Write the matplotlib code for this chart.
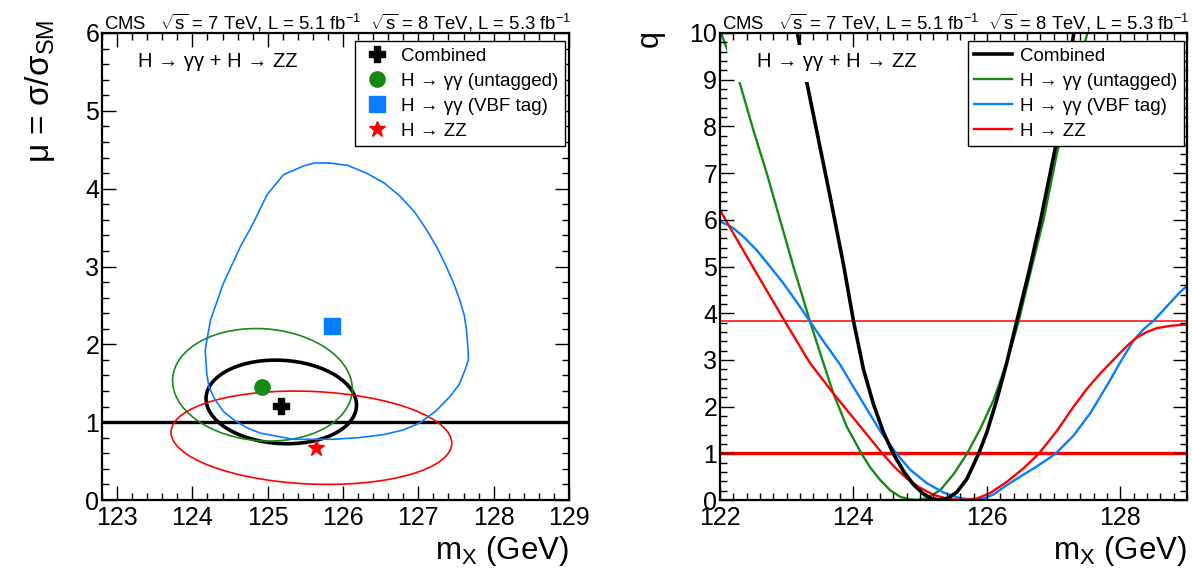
import numpy as np
import matplotlib
matplotlib.use('Agg')
import matplotlib.pyplot as plt
from matplotlib.patches import Ellipse, Rectangle
from matplotlib.lines import Line2D
from matplotlib.ticker import MultipleLocator

plt.rcParams['font.family'] = ['Liberation Sans', 'DejaVu Sans']
plt.rcParams['mathtext.fontset'] = 'custom'
plt.rcParams['mathtext.rm'] = 'Liberation Sans'
plt.rcParams['mathtext.it'] = 'Liberation Sans'
plt.rcParams['mathtext.bf'] = 'Liberation Sans:bold'
plt.rcParams['mathtext.sf'] = 'Liberation Sans'

GREEN = '#168a16'
BLUE = '#0a7cff'
RED = '#ff0000'

labels = ['Combined', 'H → γγ (untagged)', 'H → γγ (VBF tag)', 'H → ZZ']

# best fit points (m_X in GeV, mu)
best_mass = [125.18, 124.93, 125.86, 125.64]
best_mu = [1.21, 1.45, 2.24, 0.67]

# 68% contours that are ~elliptic: combined, untagged, ZZ
ell_mass = [125.18, 124.93, 125.58]
ell_mu = [1.26, 1.48, 0.80]
ell_width = [2.00, 2.39, 3.73]
ell_height = [1.07, 1.44, 1.19]
ell_tilt = [-3.3, -4.0, -2.4]

# VBF tag contour (clockwise from the top)
vbf_mass = [125.81, 126.06, 126.31, 126.55, 126.76, 126.95, 127.11, 127.25, 127.37, 127.47,
            127.55, 127.61, 127.64, 127.66, 127.665, 127.62, 127.54, 127.42, 127.24, 127.02,
            126.80, 126.54, 126.20, 125.87, 125.34, 124.90, 124.72, 124.55, 124.41, 124.30,
            124.22, 124.19, 124.17, 124.24, 124.41, 124.64, 124.81, 124.99, 125.21, 125.47,
            125.62]
vbf_mu = [4.33, 4.30, 4.20, 4.07, 3.90, 3.70, 3.47, 3.24, 3.00, 2.78,
          2.57, 2.37, 2.18, 1.93, 1.80, 1.67, 1.48, 1.33, 1.15, 0.99,
          0.90, 0.84, 0.80, 0.78, 0.78, 0.86, 0.93, 1.03, 1.14, 1.29,
          1.45, 1.63, 1.93, 2.31, 2.78, 3.26, 3.56, 3.92, 4.18, 4.29,
          4.33]

# likelihood scans q(m_X)
comb_m = [123.15, 123.16, 123.30, 123.45, 123.65, 123.85, 124.00, 124.15, 124.30, 124.45,
          124.60, 124.75, 124.90, 125.05, 125.17, 125.29, 125.42, 125.55, 125.70, 125.875,
          126.00, 126.15, 126.30, 126.45, 126.625, 126.80, 127.025, 127.30, 127.31]
comb_q = [10.05, 10.0, 8.95, 7.90, 6.50, 5.05, 3.84, 2.80, 2.05, 1.45,
          0.985, 0.62, 0.33, 0.13, 0.03, 0.0, 0.04, 0.17, 0.45, 0.985,
          1.45, 2.15, 2.95, 3.84, 4.85, 5.95, 7.53, 9.96, 10.05]

untag_m = [122.00, 122.025, 122.29, 122.50, 122.70, 122.90, 123.10, 123.35, 123.50, 123.70,
           123.90, 124.125, 124.25, 124.40, 124.55, 124.70, 124.83, 124.95, 125.10, 125.30,
           125.50, 125.70, 125.90, 126.10, 126.30, 126.475, 126.675, 126.85, 127.05, 127.50,
           127.51]
untag_q = [10.05, 9.96, 8.96, 7.92, 7.00, 6.00, 5.00, 3.82, 3.15, 2.28,
           1.57, 0.985, 0.70, 0.43, 0.21, 0.07, 0.015, 0.0, 0.04, 0.21,
           0.55, 0.985, 1.52, 2.14, 2.95, 3.82, 5.00, 6.00, 7.42, 9.96,
           10.05]

vbf_scan_m = [122.00, 122.10, 122.20, 122.35, 122.55, 122.75, 122.95, 123.15, 123.35, 123.55,
              123.80, 124.00, 124.20, 124.40, 124.65, 124.85, 125.10, 125.35, 125.575, 125.78,
              125.95, 126.10, 126.30, 126.50, 126.75, 127.025, 127.30, 127.55, 127.80, 128.00,
              128.20, 128.35, 128.50, 128.70, 128.90, 129.00]
vbf_scan_q = [5.96, 5.90, 5.82, 5.64, 5.35, 5.00, 4.64, 4.24, 3.82, 3.40,
              2.90, 2.42, 1.95, 1.48, 0.985, 0.65, 0.36, 0.16, 0.05, 0.0,
              0.03, 0.12, 0.32, 0.50, 0.72, 0.985, 1.38, 1.86, 2.45, 2.95,
              3.42, 3.66, 3.84, 4.15, 4.46, 4.58]

zz_m = [122.00, 122.20, 122.55, 122.975, 123.35, 123.70, 124.10, 124.44, 124.62, 124.80,
        125.00, 125.20, 125.40, 125.62, 125.85, 126.05, 126.30, 126.55, 126.775, 127.05,
        127.30, 127.50, 127.70, 127.95, 128.10, 128.25, 128.40, 128.55, 128.75, 128.90,
        129.00]
zz_q = [6.21, 5.71, 4.85, 3.82, 2.93, 2.28, 1.58, 0.985, 0.70, 0.46,
        0.26, 0.11, 0.03, 0.0, 0.03, 0.15, 0.39, 0.68, 0.985, 1.48,
        2.00, 2.38, 2.71, 3.08, 3.30, 3.48, 3.60, 3.68, 3.73, 3.75,
        3.76]

q_levels = [1.0, 3.84]


def style_axes(ax, xmajor, ymajor):
    ax.xaxis.set_major_locator(MultipleLocator(xmajor))
    ax.xaxis.set_minor_locator(MultipleLocator(0.2))
    ax.yaxis.set_major_locator(MultipleLocator(ymajor))
    ax.yaxis.set_minor_locator(MultipleLocator(0.2))
    ax.tick_params(which='both', direction='in', top=True, right=True, width=1.0,
                   labelsize=18, color='black')
    ax.tick_params(which='major', length=10)
    ax.tick_params(which='minor', length=5)
    ax.tick_params(axis='x', pad=4)
    ax.tick_params(axis='y', pad=2)
    for s in ax.spines.values():
        s.set_linewidth(1.6)
    ax.set_axisbelow(False)


def header(ax, x0):
    # white box that hides the curves behind the channel text
    ax.add_patch(Rectangle((0.015, 0.895), 0.44, 0.079, transform=ax.transAxes,
                           facecolor='white', edgecolor='none', zorder=2.2))
    ax.text(x0, 0.938, 'H → γγ + H → ZZ', transform=ax.transAxes, fontsize=14.5,
            va='center', ha='left', zorder=2.3)


fig = plt.figure(figsize=(11.92, 5.70), dpi=100)
ax1 = fig.add_axes([102 / 1192, 70 / 570, 467 / 1192, 467 / 570])
ax2 = fig.add_axes([720 / 1192, 70 / 570, 467 / 1192, 467 / 570])

# ---------------- left: mu vs mass ----------------
ax1.set_xlim(122.8, 129)
ax1.set_ylim(0, 6)
style_axes(ax1, 1, 1)

ax1.axhline(1.0, color='black', lw=2.4, zorder=1.8)

ell_colors = ['black', GREEN, RED]
ell_lw = [2.6, 1.2, 1.2]
for cx, cy, w, h, t, col, lw in zip(ell_mass, ell_mu, ell_width, ell_height, ell_tilt,
                                    ell_colors, ell_lw):
    ax1.add_patch(Ellipse((cx, cy), w, h, angle=t, fill=False, edgecolor=col, lw=lw, zorder=2))

ax1.plot(np.append(vbf_mass, vbf_mass[0]), np.append(vbf_mu, vbf_mu[0]), color=BLUE, lw=1.2)

markers = ['P', 'o', 's', '*']
msizes = [11, 11, 11, 12]
mcolors = ['black', GREEN, BLUE, RED]
for m, mu, mk, ms, c in zip(best_mass, best_mu, markers, msizes, mcolors):
    ax1.plot([m], [mu], marker=mk, ms=ms, color=c, ls='none', mec=c, zorder=3)

header(ax1, 0.077)
h1 = [Line2D([], [], marker=mk, ms=ms, color=c, ls='none') for mk, ms, c in zip(markers, msizes, mcolors)]
leg1 = ax1.legend(h1, labels, loc='upper right', bbox_to_anchor=(0.991, 0.983), fontsize=13.5,
                  frameon=True, fancybox=False, framealpha=1, edgecolor='black',
                  borderaxespad=0, borderpad=0.35, labelspacing=0.42, handlelength=1.6,
                  handletextpad=0.5)
leg1.get_frame().set_linewidth(1.0)

# ---------------- right: q vs mass ----------------
ax2.set_xlim(122, 129)
ax2.set_ylim(0, 10)
style_axes(ax2, 2, 1)

ax2.axhline(q_levels[0], color=RED, lw=2.4, zorder=1.8)
ax2.axhline(q_levels[1], color=RED, lw=1.1, zorder=1.8)

ax2.plot(untag_m, untag_q, color=GREEN, lw=1.7)
ax2.plot(vbf_scan_m, vbf_scan_q, color=BLUE, lw=1.7)
ax2.plot(zz_m, zz_q, color=RED, lw=1.7)
ax2.plot(comb_m, comb_q, color='black', lw=2.6)

header(ax2, 0.079)
h2 = [Line2D([], [], color=c, lw=lw) for c, lw in zip(['black', GREEN, BLUE, RED], [2.6, 1.7, 1.7, 1.7])]
leg2 = ax2.legend(h2, labels, loc='upper right', bbox_to_anchor=(0.994, 0.983), fontsize=13.5,
                  frameon=True, fancybox=False, framealpha=1, edgecolor='black',
                  borderaxespad=0, borderpad=0.35, labelspacing=0.42, handlelength=2.0,
                  handletextpad=0.45)
leg2.get_frame().set_linewidth(1.0)

# ---------------- texts ----------------
head = r'CMS   $\sqrt{s}$ = 7 TeV, L = 5.1 fb$^{-1}$  $\sqrt{s}$ = 8 TeV, L = 5.3 fb$^{-1}$'
fig.text(104 / 1192, 1 - 29 / 570, head, fontsize=13.3, ha='left', va='baseline')
fig.text(722 / 1192, 1 - 29 / 570, head, fontsize=13.3, ha='left', va='baseline')

fig.text(40 / 1192, 1 - 20 / 570, r'μ = σ/σ$_{\mathrm{SM}}$', fontsize=24, rotation=90,
         ha='center', va='top')
fig.text(650 / 1192, 1 - 30 / 570, 'q', fontsize=22, rotation=90, ha='center', va='top')

fig.text(569 / 1192, 1 - 551 / 570, r'm$_{\mathrm{X}}$ (GeV)', fontsize=22.5, ha='right', va='center')
fig.text(1187 / 1192, 1 - 551 / 570, r'm$_{\mathrm{X}}$ (GeV)', fontsize=22.5, ha='right', va='center')

fig.savefig('out.png', dpi=100)
